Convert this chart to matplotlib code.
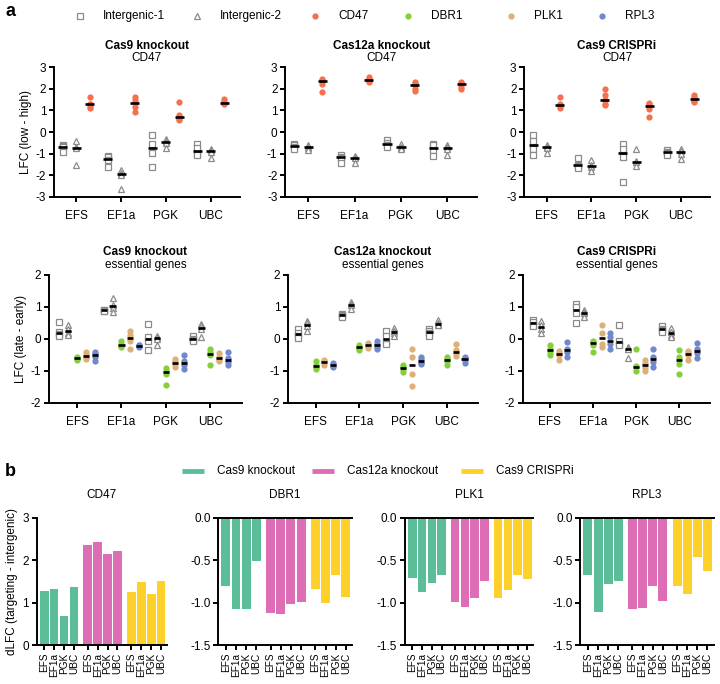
import matplotlib
matplotlib.use('Agg')
import matplotlib.pyplot as plt
import numpy as np

plt.rcParams['font.family'] = ['Liberation Sans', 'DejaVu Sans']
plt.rcParams['axes.unicode_minus'] = False
plt.rcParams['font.size'] = 8

promoters = ['EFS', 'EF1a', 'PGK', 'UBC']
systems = ['Cas9 knockout', 'Cas12a knockout', 'Cas9 CRISPRi']

# ---- panel a, top row: CD47 sort (low - high), guides per promoter (EFS, EF1a, PGK, UBC)
cas9ko_cd47_int1 = [[-0.6, -0.65, -0.7, -0.9], [-1.1, -1.15, -1.3, -1.62], [-0.15, -0.55, -0.95, -1.63], [-0.55, -0.72, -1.0, -1.05]]
cas9ko_cd47_int2 = [[-0.4, -0.7, -0.75, -1.5], [-1.75, -1.9, -2.0, -2.65], [-0.3, -0.4, -0.5, -0.72], [-0.8, -0.85, -0.92, -1.2]]
cas9ko_cd47_tgt = [[1.6, 1.3, 1.28, 1.15, 1.1], [1.63, 1.5, 1.33, 1.15, 0.93], [1.38, 0.78, 0.68, 0.6, 0.55], [1.52, 1.42, 1.36, 1.33, 1.3]]

cas12ko_cd47_int1 = [[-0.55, -0.62, -0.7, -0.8], [-1.05, -1.15, -1.2, -1.42], [-0.38, -0.5, -0.62, -0.7], [-0.55, -0.6, -0.85, -1.1]]
cas12ko_cd47_int2 = [[-0.6, -0.68, -0.72, -0.85], [-1.1, -1.15, -1.22, -1.45], [-0.55, -0.68, -0.72, -0.78], [-0.58, -0.7, -0.78, -1.05]]
cas12ko_cd47_tgt = [[2.45, 2.38, 2.35, 2.2, 1.85], [2.55, 2.45, 2.42, 2.35, 2.3], [2.3, 2.2, 2.15, 2.0, 1.9], [2.3, 2.25, 2.2, 2.1, 2.0]]

crispri_cd47_int1 = [[-0.15, -0.42, -0.8, -1.07], [-1.2, -1.5, -1.56, -1.65], [-0.56, -0.8, -1.15, -2.3], [-0.85, -0.9, -0.95, -1.05]]
crispri_cd47_int2 = [[-0.6, -0.68, -0.75, -0.95], [-1.27, -1.53, -1.63, -1.8], [-0.78, -1.35, -1.4, -1.58], [-0.8, -0.88, -1.0, -1.25]]
crispri_cd47_tgt = [[1.6, 1.3, 1.25, 1.2, 1.1], [2.0, 1.7, 1.48, 1.3, 1.27], [1.36, 1.3, 1.2, 1.05, 0.67], [1.7, 1.6, 1.52, 1.45, 1.38]]

# ---- panel a, bottom row: essential genes (late - early)
cas9ko_ess_int1 = [[0.52, 0.22, 0.15, 0.1], [0.92, 0.9, 0.88, 0.86], [0.48, 0.05, -0.05, -0.35], [0.08, 0.0, -0.02, -0.05]]
cas9ko_ess_int2 = [[0.42, 0.3, 0.2, 0.12], [1.28, 1.05, 0.98, 0.85], [0.1, 0.05, 0.0, -0.18], [0.48, 0.4, 0.3, 0.05]]
cas9ko_ess_dbr1 = [[-0.55, -0.6, -0.62, -0.65], [-0.05, -0.15, -0.22, -0.25], [-0.92, -1.0, -1.1, -1.43], [-0.3, -0.42, -0.5, -0.82]]
cas9ko_ess_plk1 = [[-0.4, -0.5, -0.55, -0.62], [0.25, 0.12, -0.05, -0.3], [-0.62, -0.7, -0.78, -0.88], [-0.45, -0.55, -0.65, -0.7]]
cas9ko_ess_rpl3 = [[-0.4, -0.48, -0.55, -0.7], [-0.18, -0.2, -0.22, -0.25], [-0.5, -0.68, -0.82, -0.95], [-0.42, -0.6, -0.72, -0.8]]

cas12ko_ess_int1 = [[0.3, 0.18, 0.1, 0.02], [0.78, 0.75, 0.72, 0.68], [0.25, 0.1, -0.1, -0.15], [0.32, 0.25, 0.18, 0.1]]
cas12ko_ess_int2 = [[0.55, 0.5, 0.4, 0.25], [1.15, 1.1, 1.05, 0.95], [0.35, 0.25, 0.2, 0.1], [0.58, 0.5, 0.45, 0.42]]
cas12ko_ess_dbr1 = [[-0.68, -0.8, -0.88, -0.95], [-0.18, -0.25, -0.28, -0.35], [-0.82, -0.88, -0.95, -1.02], [-0.55, -0.62, -0.68, -0.8]]
cas12ko_ess_plk1 = [[-0.65, -0.7, -0.72, -0.8], [-0.12, -0.18, -0.22, -0.28], [-0.32, -0.55, -1.1, -1.48], [-0.15, -0.35, -0.45, -0.52]]
cas12ko_ess_rpl3 = [[-0.75, -0.8, -0.83, -0.88], [-0.05, -0.15, -0.25, -0.3], [-0.55, -0.62, -0.75, -0.78], [-0.55, -0.6, -0.66, -0.75]]

crispri_ess_int1 = [[0.6, 0.52, 0.45, 0.4], [1.1, 1.0, 0.8, 0.5], [0.45, -0.05, -0.15, -0.2], [0.4, 0.32, 0.28, 0.22]]
crispri_ess_int2 = [[0.55, 0.45, 0.3, 0.2], [0.9, 0.85, 0.8, 0.7], [-0.25, -0.3, -0.32, -0.6], [0.35, 0.22, 0.12, 0.05]]
crispri_ess_dbr1 = [[-0.2, -0.3, -0.4, -0.5], [-0.05, -0.1, -0.18, -0.42], [-0.32, -0.85, -0.88, -1.0], [-0.35, -0.55, -0.78, -1.1]]
crispri_ess_plk1 = [[-0.38, -0.45, -0.5, -0.65], [0.45, 0.18, -0.15, -0.25], [-0.65, -0.75, -0.9, -1.0], [-0.38, -0.42, -0.5, -0.65]]
crispri_ess_rpl3 = [[-0.1, -0.3, -0.4, -0.58], [0.18, 0.05, -0.15, -0.3], [-0.3, -0.55, -0.72, -0.88], [-0.12, -0.3, -0.45, -0.6]]

# ---- panel b: dLFC (targeting - intergenic), per system, EFS/EF1a/PGK/UBC
genes_b = ['CD47', 'DBR1', 'PLK1', 'RPL3']
dlfc_cas9ko = [[1.28, 1.33, 0.69, 1.37], [-0.8, -1.08, -1.08, -0.51], [-0.71, -0.87, -0.77, -0.68], [-0.68, -1.11, -0.78, -0.75]]
dlfc_cas12ko = [[2.37, 2.43, 2.14, 2.22], [-1.12, -1.13, -1.02, -0.99], [-0.99, -1.05, -0.94, -0.75], [-1.08, -1.06, -0.8, -0.98]]
dlfc_crispri = [[1.24, 1.49, 1.21, 1.51], [-0.84, -1.0, -0.68, -0.93], [-0.95, -0.85, -0.67, -0.72], [-0.81, -0.9, -0.46, -0.63]]

GRAY = '#8a8a8a'
C_CD47 = '#F4714F'
C_DBR1 = '#86CF3C'
C_PLK1 = '#DDB07A'
C_RPL3 = '#7088CC'
C_SYS = ['#5BBE98', '#DD6DB5', '#FDD12A']

sq = dict(marker='s', ms=4.8, mfc='white', mec=GRAY, mew=0.9, ls='none')
tri = dict(marker='^', ms=5.0, mfc='white', mec=GRAY, mew=0.9, ls='none')


def dot(c):
    return dict(marker='o', ms=4.5, mfc=c, mec='none', ls='none')


def style_ax(ax):
    for s in ['top', 'right']:
        ax.spines[s].set_visible(False)
    for s in ['left', 'bottom']:
        ax.spines[s].set_linewidth(1.4)
    ax.tick_params(width=1.4, length=3.5, labelsize=8.5, pad=2)


def strip(ax, series, offsets, half):
    for (vals, st), off in zip(series, offsets):
        for i, pts in enumerate(vals):
            ax.plot(np.full(len(pts), i + off), pts, **st)
            med = np.median(pts)
            ax.plot([i + off - half, i + off + half], [med, med], color='k', lw=1.9,
                    solid_capstyle='butt', zorder=5)
    style_ax(ax)
    ax.set_xticks(range(len(promoters)))
    ax.set_xticklabels(promoters, fontsize=8.5)
    ax.tick_params(axis='x', pad=6)


fig = plt.figure(figsize=(7.2, 6.84), dpi=100)

# top row
top_sets = [(cas9ko_cd47_int1, cas9ko_cd47_int2, cas9ko_cd47_tgt),
            (cas12ko_cd47_int1, cas12ko_cd47_int2, cas12ko_cd47_tgt),
            (crispri_cd47_int1, crispri_cd47_int2, crispri_cd47_tgt)]
top_pos = [[0.075, 0.712, 0.258, 0.190], [0.396, 0.712, 0.267, 0.190], [0.728, 0.712, 0.258, 0.190]]
for k in range(3):
    ax = fig.add_axes(top_pos[k])
    i1, i2, tg = top_sets[k]
    strip(ax, [(i1, sq), (i2, tri), (tg, dot(C_CD47))], [-0.3, 0.0, 0.3], 0.1)
    ax.set_ylim(-3, 3)
    ax.set_yticks(range(-3, 4))
    ax.set_xlim(-0.5, 3.65)
    if k == 0:
        ax.set_ylabel('LFC (low - high)', fontsize=8.5, labelpad=3)
    cx = top_pos[k][0] + top_pos[k][2] / 2
    fig.text(cx, 1 - 46 / 684, systems[k], ha='center', va='center', fontsize=8.5, fontweight='bold')
    fig.text(cx, 1 - 58 / 684, 'CD47', ha='center', va='center', fontsize=8.5)

# bottom row
bot_sets = [(cas9ko_ess_int1, cas9ko_ess_int2, cas9ko_ess_dbr1, cas9ko_ess_plk1, cas9ko_ess_rpl3),
            (cas12ko_ess_int1, cas12ko_ess_int2, cas12ko_ess_dbr1, cas12ko_ess_plk1, cas12ko_ess_rpl3),
            (crispri_ess_int1, crispri_ess_int2, crispri_ess_dbr1, crispri_ess_plk1, crispri_ess_rpl3)]
bot_pos = [[0.068, 0.411, 0.268, 0.187], [0.400, 0.411, 0.264, 0.187], [0.726, 0.411, 0.260, 0.187]]
for k in range(3):
    ax = fig.add_axes(bot_pos[k])
    a1, a2, d, p, r = bot_sets[k]
    strip(ax, [(a1, sq), (a2, tri), (d, dot(C_DBR1)), (p, dot(C_PLK1)), (r, dot(C_RPL3))],
          [-0.4, -0.2, 0.0, 0.2, 0.4], 0.07)
    ax.set_ylim(-2, 2)
    ax.set_yticks(range(-2, 3))
    ax.set_xlim(-0.63, 3.71)
    if k == 0:
        ax.set_ylabel('LFC (late - early)', fontsize=8.5, labelpad=3)
    cx = bot_pos[k][0] + bot_pos[k][2] / 2
    fig.text(cx, 1 - 252 / 684, systems[k], ha='center', va='center', fontsize=8.5, fontweight='bold')
    fig.text(cx, 1 - 265 / 684, 'essential genes', ha='center', va='center', fontsize=8.5)

# panel b bars
xb = np.concatenate([np.arange(4) + 4.4 * g for g in range(3)])
bar_labels = promoters * 3
bar_pos = [[0.051, 0.057, 0.181, 0.186], [0.303, 0.057, 0.186, 0.186],
           [0.5625, 0.057, 0.178, 0.186], [0.806, 0.057, 0.185, 0.186]]
for j, gname in enumerate(genes_b):
    ax = fig.add_axes(bar_pos[j])
    vals = [dlfc_cas9ko[j], dlfc_cas12ko[j], dlfc_crispri[j]]
    for g in range(3):
        ax.bar(xb[4 * g:4 * g + 4], vals[g], width=0.88, color=C_SYS[g], linewidth=0)
    style_ax(ax)
    ax.set_xticks(xb)
    ax.set_xticklabels(bar_labels, rotation=90, fontsize=7.2)
    ax.set_xlim(-0.75, 12.4)
    if j == 0:
        ax.set_ylim(0, 3)
        ax.set_yticks([0, 1, 2, 3])
        ax.set_ylabel('dLFC (targeting - intergenic)', fontsize=8.5, labelpad=3)
    else:
        ax.set_ylim(-1.5, 0)
        ax.set_yticks([0.0, -0.5, -1.0, -1.5])
        ax.set_yticklabels(['0.0', '-0.5', '-1.0', '-1.5'])
        ax.axhline(0, color='k', lw=1.4, clip_on=False)
    ax.set_title(gname, fontsize=8.5, pad=14)

# legends and panel letters (overlay in pixel coordinates)
ov = fig.add_axes([0, 0, 1, 1])
ov.set_xlim(0, 720)
ov.set_ylim(684, 0)
ov.axis('off')
ov.text(5, 11, 'a', fontsize=13, fontweight='bold', va='center')
ov.text(5, 471, 'b', fontsize=13, fontweight='bold', va='center')

leg_items = [('Intergenic-1', sq), ('Intergenic-2', tri), ('CD47', dot(C_CD47)),
             ('DBR1', dot(C_DBR1)), ('PLK1', dot(C_PLK1)), ('RPL3', dot(C_RPL3))]
leg_x = [80, 197, 315, 408, 511, 602]
for (lab, st), x in zip(leg_items, leg_x):
    ov.plot([x], [16], **st)
    ov.text(x + 23, 16, lab, fontsize=8.5, va='center')

bleg_x = [182, 312, 461]
for g in range(3):
    ov.plot([bleg_x[g], bleg_x[g] + 22], [471, 471], color=C_SYS[g], lw=3.5, solid_capstyle='butt')
    ov.text(bleg_x[g] + 35, 471, systems[g], fontsize=8.5, va='center')

fig.savefig('out.png', dpi=100)
